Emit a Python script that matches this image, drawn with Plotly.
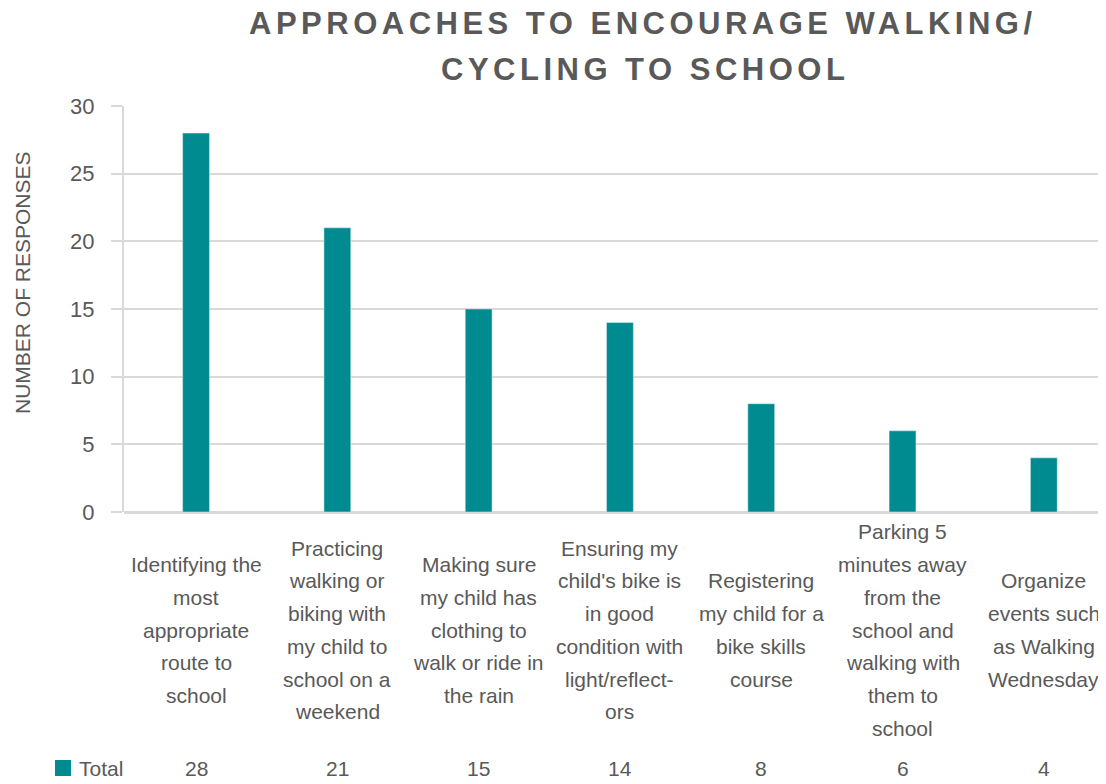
import plotly.graph_objects as go

categories = [
    "Identifying the<br>most<br>appropriate<br>route to<br>school",
    "Practicing<br>walking or<br>biking with<br>my child to<br>school on a<br>weekend",
    "Making sure<br>my child has<br>clothing to<br>walk or ride in<br>the rain",
    "Ensuring my<br>child's bike is<br>in good<br>condition with<br>light/reflect-<br>ors",
    "Registering<br>my child for a<br>bike skills<br>course",
    "Parking 5<br>minutes away<br>from the<br>school and<br>walking with<br>them to<br>school",
    "Organize<br>events such<br>as Walking<br>Wednesday",
]
values = [28, 21, 15, 14, 8, 6, 4]
series_name = "Total"
y_ticks = [0, 5, 10, 15, 20, 25, 30]

TEAL = "#008B91"
GRAY = "#595959"
GRID = "#D9D9D9"
FONT = "Liberation Sans, Arial, sans-serif"

W, H = 1106, 784
OFF = 8  # page body margin offset
L, R, T, B = 124 - OFF, OFF, 106 - OFF, 784 - (512 - OFF)
plot_h = H - T - B
plot_w = W - L - R

def px(xpix):  # reference pixel x -> paper x
    return (xpix - OFF - L) / plot_w

def py(ypix):  # reference pixel y -> paper y
    return (H - B - (ypix - OFF)) / plot_h

x_idx = list(range(len(categories)))

fig = go.Figure()
fig.add_trace(go.Bar(
    x=x_idx, y=values, name=series_name, marker_color=TEAL, width=0.19,
    showlegend=False,
))

annotations = []
line_gap = 32.7
center_pix = 630
for i, cat in enumerate(categories):
    lines = cat.split("<br>")
    n = len(lines)
    for j, ln in enumerate(lines):
        ypix = center_pix + (j - (n - 1) / 2) * line_gap
        annotations.append(dict(
            x=i, xref="x", y=py(ypix), yref="paper", text=ln, showarrow=False,
            xanchor="center", yanchor="middle",
            font=dict(family=FONT, size=21, color=GRAY),
        ))
for i, v in enumerate(values):
    annotations.append(dict(
        x=i, xref="x", y=py(768), yref="paper", text=str(v), showarrow=False,
        xanchor="center", yanchor="middle",
        font=dict(family=FONT, size=21, color=GRAY),
    ))
annotations.append(dict(
    x=px(77), xref="paper", y=py(768), yref="paper", text=series_name,
    showarrow=False, xanchor="left", yanchor="middle",
    font=dict(family=FONT, size=21, color=GRAY),
))
annotations.append(dict(
    x=px(22), xref="paper", y=py(283), yref="paper",
    text="NUMBER OF RESPONSES", textangle=-90, showarrow=False,
    xanchor="center", yanchor="middle",
    font=dict(family=FONT, size=21, color=GRAY),
))
title_style = "letter-spacing:4.5px"
TFONT = dict(family="Liberation Sans Narrow, Arial Narrow, Liberation Sans, sans-serif", size=31, color=GRAY)
annotations.append(dict(
    x=px(643), xref="paper", y=py(23), yref="paper",
    text=f"<span style='{title_style}'><b>APPROACHES TO ENCOURAGE WALKING/</b></span>",
    showarrow=False, xanchor="center", yanchor="middle", font=TFONT,
))
annotations.append(dict(
    x=px(645), xref="paper", y=py(69), yref="paper",
    text=f"<span style='{title_style}'><b>CYCLING TO SCHOOL</b></span>",
    showarrow=False, xanchor="center", yanchor="middle", font=TFONT,
))

shapes = [dict(
    type="rect", xref="paper", yref="paper",
    x0=px(55), x1=px(71), y0=py(776), y1=py(760),
    fillcolor=TEAL, line=dict(width=0),
)]

fig.update_layout(
    width=W, height=H,
    margin=dict(l=L, r=R, t=T, b=B, pad=0),
    paper_bgcolor="white", plot_bgcolor="white",
    annotations=annotations, shapes=shapes,
    xaxis=dict(range=[-0.51, 6.44], showticklabels=False, showgrid=False,
               zeroline=False, showline=False, ticks=""),
    yaxis=dict(range=[0, 30], tickvals=y_ticks, showgrid=True, gridcolor=GRID,
               gridwidth=2, zeroline=True, zerolinecolor=GRID, zerolinewidth=3,
               showline=True, linecolor=GRID, linewidth=2, ticks="outside",
               ticklen=11, tickcolor=GRID, tickwidth=2, ticklabelstandoff=12,
               tickfont=dict(family=FONT, size=22, color=GRAY)),
    font=dict(family=FONT),
)
fig.write_html("out.html")
